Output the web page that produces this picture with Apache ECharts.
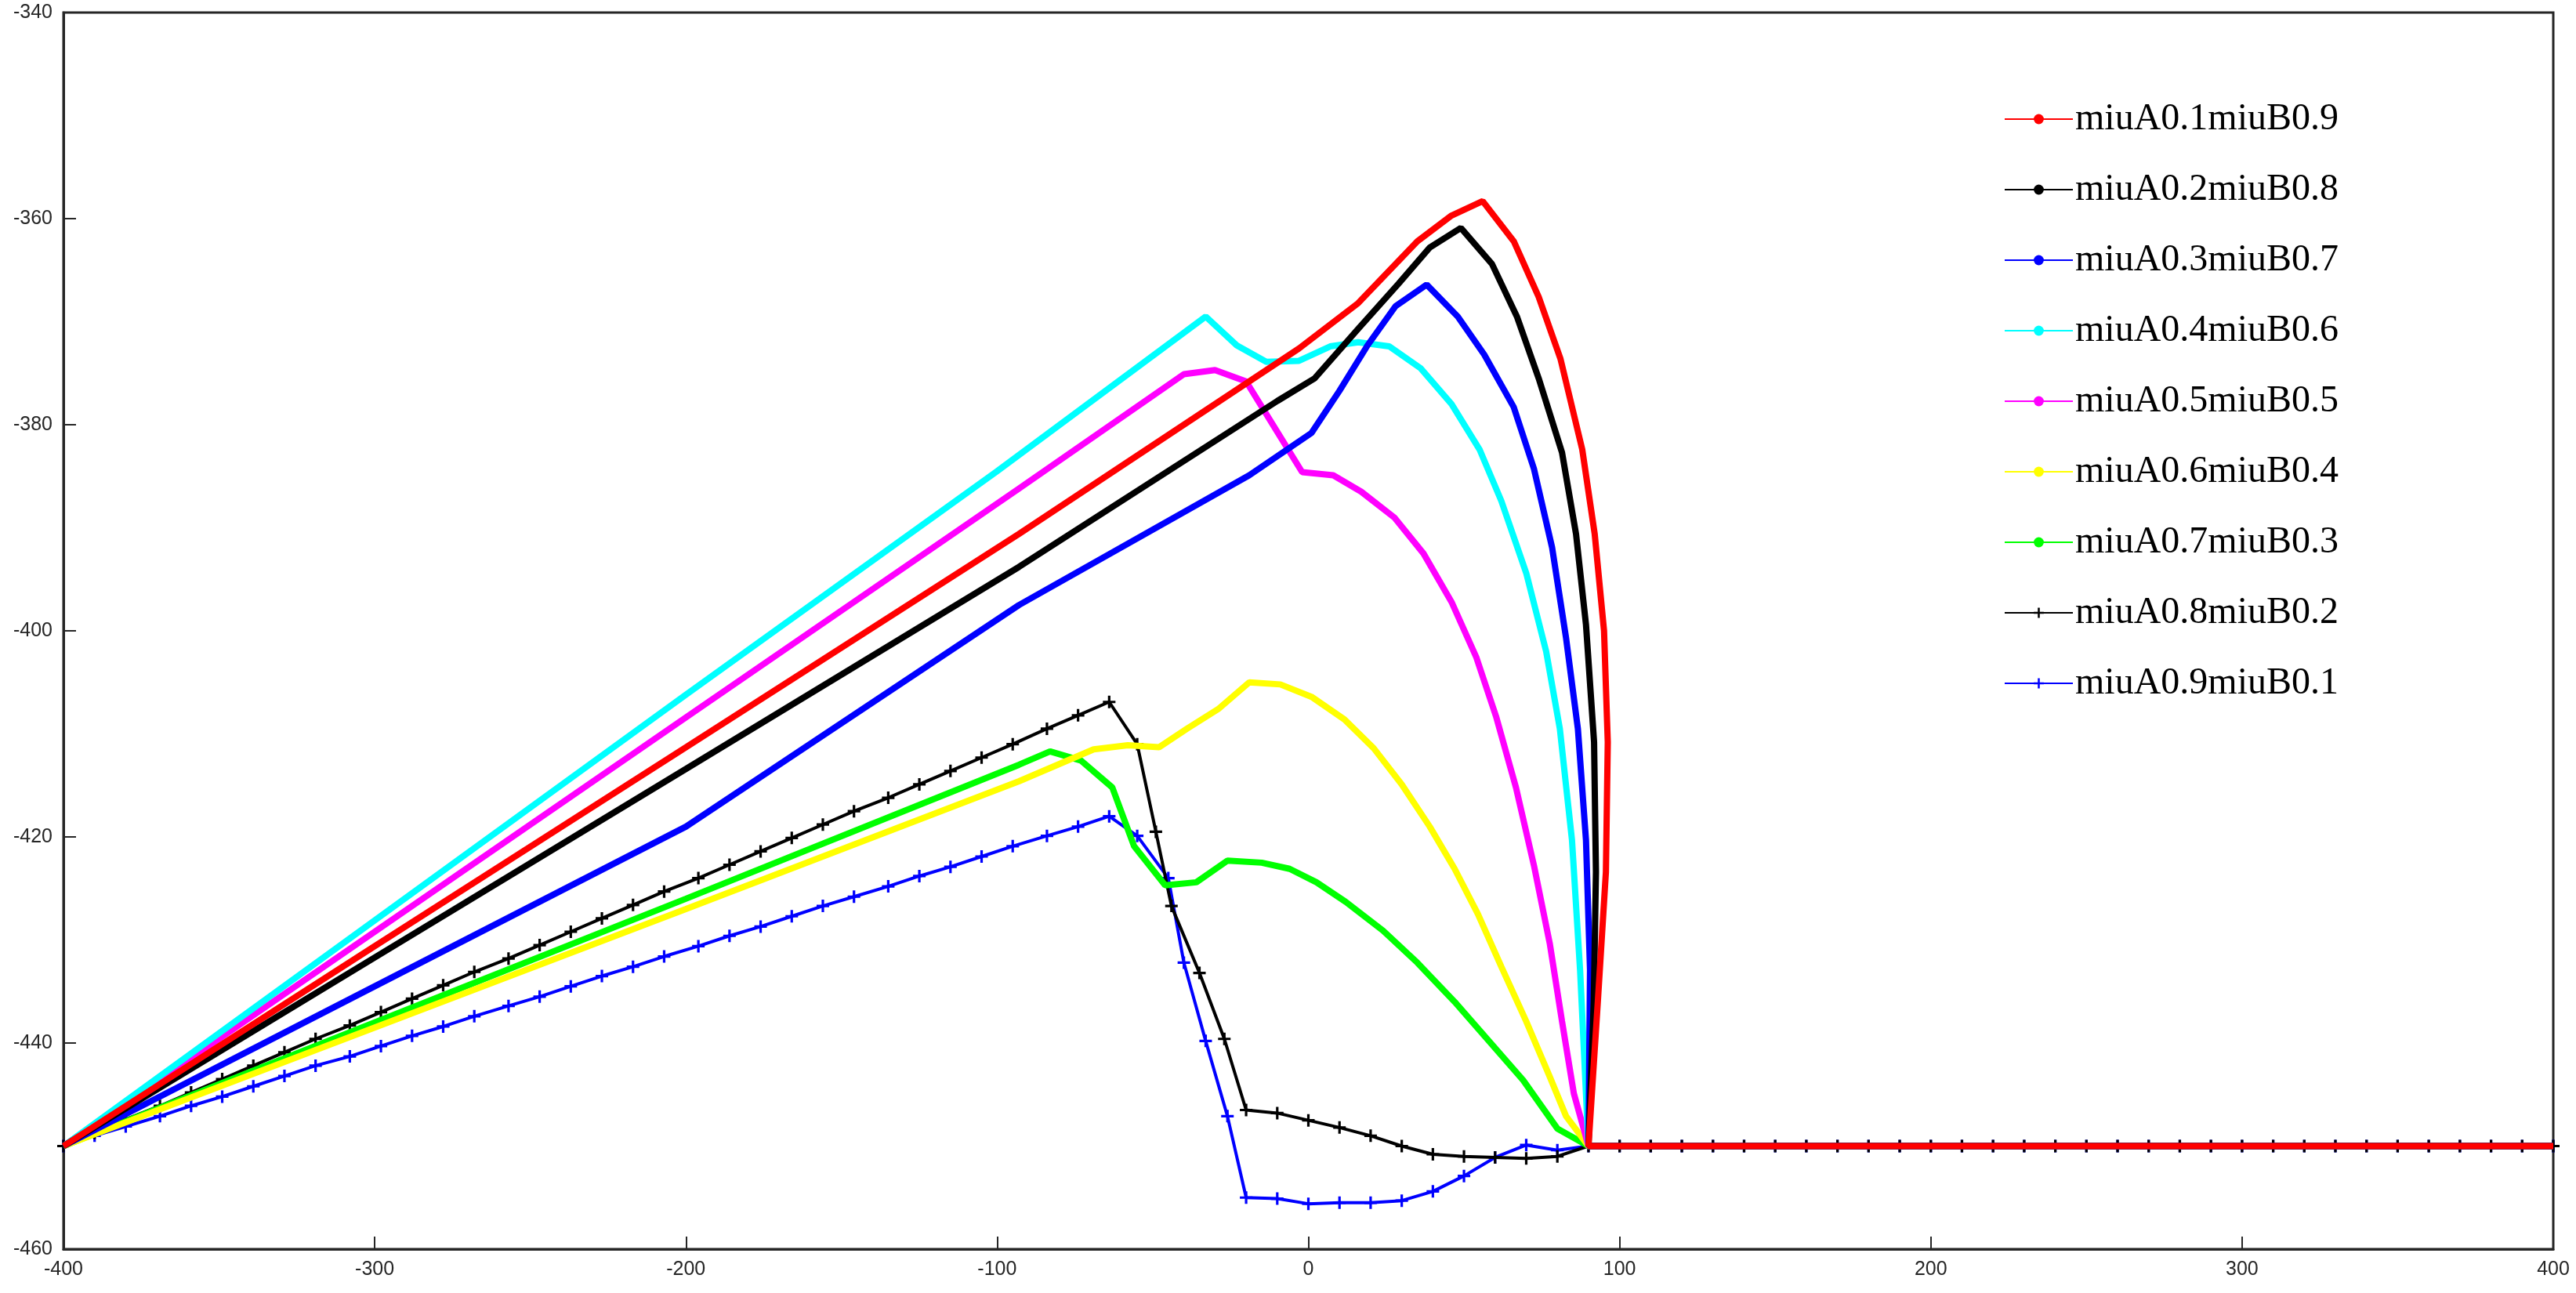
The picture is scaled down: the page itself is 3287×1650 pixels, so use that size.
<!DOCTYPE html>
<html><head><meta charset="utf-8">
<script src="https://cdn.jsdelivr.net/npm/echarts@6/dist/echarts.min.js"></script>
<style>html,body{margin:0;padding:0;background:#fff}#c{width:3287px;height:1650px}</style>
</head><body><div id="c"></div>
<script>
const xTicks = [-400,-300,-200,-100,0,100,200,300,400];
const yTicks = [-460,-440,-420,-400,-380,-360,-340];
const names = ['miuA0.1miuB0.9','miuA0.2miuB0.8','miuA0.3miuB0.7','miuA0.4miuB0.6','miuA0.5miuB0.5','miuA0.6miuB0.4','miuA0.7miuB0.3','miuA0.8miuB0.2','miuA0.9miuB0.1'];
const colors = ['#ff0000','#000000','#0000ff','#00ffff','#ff00ff','#ffff00','#00ff00','#000000','#0000ff'];

const s1 = [[-400,-450],[-300,-430.6],[-200,-411.3],[-93,-390.6],[-3,-372.6],[16,-368.2],[35,-362.2],[46,-359.7],[56,-358.3],[66,-362.2],[74,-367.6],[81,-373.6],[88,-382.4],[92,-390.6],[95,-400],[96.2,-410.8],[95.6,-423.4],[93,-436],[90,-450],[400,-450]];
const s2 = [[-400,-450],[-300,-431.7],[-200,-413.4],[-93,-393.8],[-10,-377.7],[2,-375.5],[16,-370.7],[29,-366.3],[39,-362.8],[49,-360.9],[59,-364.4],[67,-369.5],[74,-375.5],[81.5,-382.7],[86,-390.6],[89.2,-399.4],[91.8,-410.8],[92.4,-423.4],[91.7,-436],[90,-450],[400,-450]];
const s3 = [[-400,-450],[-300,-434.5],[-200,-419],[-93,-397.5],[-19,-384.9],[1,-380.8],[10,-376.7],[19,-372.3],[28,-368.5],[38,-366.4],[48,-369.5],[56.5,-373.2],[66,-378.3],[72.5,-384.3],[78.3,-391.9],[82.8,-400.7],[86.6,-409.5],[89.2,-420.3],[90.5,-432.9],[90,-450],[400,-450]];
const s4 = [[-400,-450],[-300,-428.1],[-200,-406.2],[-100,-384.5],[-33,-369.5],[-23,-372.3],[-13.5,-373.9],[-3,-373.8],[7,-372.4],[16,-372],[26,-372.4],[36,-374.5],[46,-378],[55,-382.4],[62,-387.4],[70,-394.4],[76.4,-402],[80.8,-409.5],[84.7,-420.3],[87.3,-432.9],[90,-450],[400,-450]];
const s5 = [[-400,-450],[-300,-429.2],[-200,-408.4],[-93,-386.2],[-40,-375.1],[-30,-374.7],[-20,-375.8],[-11,-380.2],[-2,-384.6],[8,-384.9],[17,-386.5],[27.6,-389],[37,-392.5],[46,-397.2],[54,-402.6],[60.3,-408.3],[66.7,-415.2],[72.5,-422.8],[77.6,-430.4],[81.5,-437.9],[85.3,-444.9],[90,-450],[400,-450]];
const s6 = [[-400,-450],[-300,-438.5],[-200,-427],[-93,-414.6],[-69,-411.5],[-58,-411.1],[-48,-411.3],[-39,-409.5],[-29,-407.6],[-19,-405],[-9,-405.2],[1,-406.4],[11.6,-408.6],[21,-411.4],[30,-414.9],[39,-419],[47,-423.1],[54.5,-427.5],[62,-432.6],[70,-437.9],[77.6,-443.3],[82.8,-447.1],[90,-450],[400,-450]];
const s7 = [[-400,-450],[-300,-438],[-200,-426],[-93,-413],[-83,-411.7],[-73,-412.6],[-63,-415.2],[-56,-420.9],[-46,-424.7],[-36,-424.4],[-26,-422.3],[-15,-422.5],[-6,-423.1],[2.6,-424.4],[12,-426.3],[24,-429.1],[35,-432.2],[47,-436],[58,-439.8],[69,-443.6],[80,-448.3],[90,-450],[400,-450]];
const s8x = [-400,-390,-380,-369,-359,-349,-339,-329,-319,-308,-298,-288,-278,-268,-257,-247,-237,-227,-217,-207,-196,-186,-176,-166,-156,-146,-135,-125,-115,-105,-95,-84,-74,-64,-55,-49,-44,-35,-27,-20,-10,0,10,20,30,40,50,60,70,80,90,100,110,120,130,140,150,160,170,180,190,200,210,220,230,240,250,260,270,280,290,300,310,320,330,340,350,360,370,380,390,400];
const s8y = [-450,-448.7,-447.4,-446.1,-444.8,-443.5,-442.2,-440.9,-439.6,-438.3,-437.0,-435.7,-434.4,-433.1,-431.8,-430.5,-429.2,-427.9,-426.6,-425.3,-424.0,-422.7,-421.4,-420.1,-418.8,-417.5,-416.2,-414.9,-413.6,-412.3,-411.0,-409.5,-408.2,-406.9,-411,-419.5,-426.7,-433.2,-439.6,-446.5,-446.8,-447.5,-448.2,-449,-450,-450.8,-451,-451.1,-451.2,-451,-450,-450,-450,-450,-450,-450,-450,-450,-450,-450,-450,-450,-450,-450,-450,-450,-450,-450,-450,-450,-450,-450,-450,-450,-450,-450,-450,-450,-450,-450,-450,-450];
const s9x = [-400,-390,-380,-369,-359,-349,-339,-329,-319,-308,-298,-288,-278,-268,-257,-247,-237,-227,-217,-207,-196,-186,-176,-166,-156,-146,-135,-125,-115,-105,-95,-84,-74,-64,-55,-45,-40,-33,-26,-20,-10,0,10,20,30,40,50,60,70,80,90,100,110,120,130,140,150,160,170,180,190,200,210,220,230,240,250,260,270,280,290,300,310,320,330,340,350,360,370,380,390,400];
const s9y = [-450,-449.0,-448.1,-447.1,-446.1,-445.2,-444.2,-443.2,-442.2,-441.3,-440.3,-439.3,-438.4,-437.4,-436.4,-435.5,-434.5,-433.5,-432.6,-431.6,-430.6,-429.6,-428.7,-427.7,-426.7,-425.8,-424.8,-423.8,-422.9,-421.9,-420.9,-419.9,-419.0,-418.0,-419.9,-424,-432.2,-439.8,-447.1,-455,-455.1,-455.6,-455.5,-455.5,-455.3,-454.4,-452.9,-451.1,-449.9,-450.4,-450,-450,-450,-450,-450,-450,-450,-450,-450,-450,-450,-450,-450,-450,-450,-450,-450,-450,-450,-450,-450,-450,-450,-450,-450,-450,-450,-450,-450,-450,-450,-450];

const zip = (xs, ys) => xs.map((x, i) => [x, ys[i]]);
const datas = [s1, s2, s3, s4, s5, s6, s7, zip(s8x, s8y), zip(s9x, s9y)];
const plus = 'path://M4,0H6V4H10V6H6V10H4V6H0V4H4Z';

const series = datas.map((d, i) => {
  const marked = i >= 7;
  return {
    name: names[i], type: 'line', data: d, z: 10 - i,
    showSymbol: marked, symbol: marked ? plus : 'none', symbolSize: 16,
    itemStyle: { color: colors[i] },
    lineStyle: { color: colors[i], width: marked ? 4 : 8 },
    animation: false
  };
});

const axisCommon = {
  axisLine: { show: true, onZero: false, lineStyle: { color: '#262626', width: 3 } },
  axisTick: { show: true, inside: true, length: 16, lineStyle: { color: '#262626', width: 2 } },
  splitLine: { show: false },
  axisLabel: { color: '#262626', fontSize: 25, fontFamily: 'Liberation Sans, Arial', margin: 14 }
};

const chart = echarts.init(document.getElementById('c'));
chart.setOption({
  backgroundColor: '#fff',
  animation: false,
  grid: { left: 81, top: 16, right: 29, bottom: 56, show: true, borderColor: '#262626', borderWidth: 3 },
  xAxis: Object.assign({ type: 'value', min: xTicks[0], max: xTicks[xTicks.length-1], interval: 100 }, axisCommon),
  yAxis: Object.assign({ type: 'value', min: yTicks[0], max: yTicks[yTicks.length-1], interval: 20 }, axisCommon),
  legend: {
    orient: 'vertical', left: 2552, top: 123, itemWidth: 87, itemHeight: 16, itemGap: 42,
    data: names,
    textStyle: { fontFamily: 'Liberation Serif, Times New Roman', fontSize: 48, color: '#000', lineHeight: 48, padding: [0,0,0,-2] }
  },
  series: series
});
</script></body></html>
